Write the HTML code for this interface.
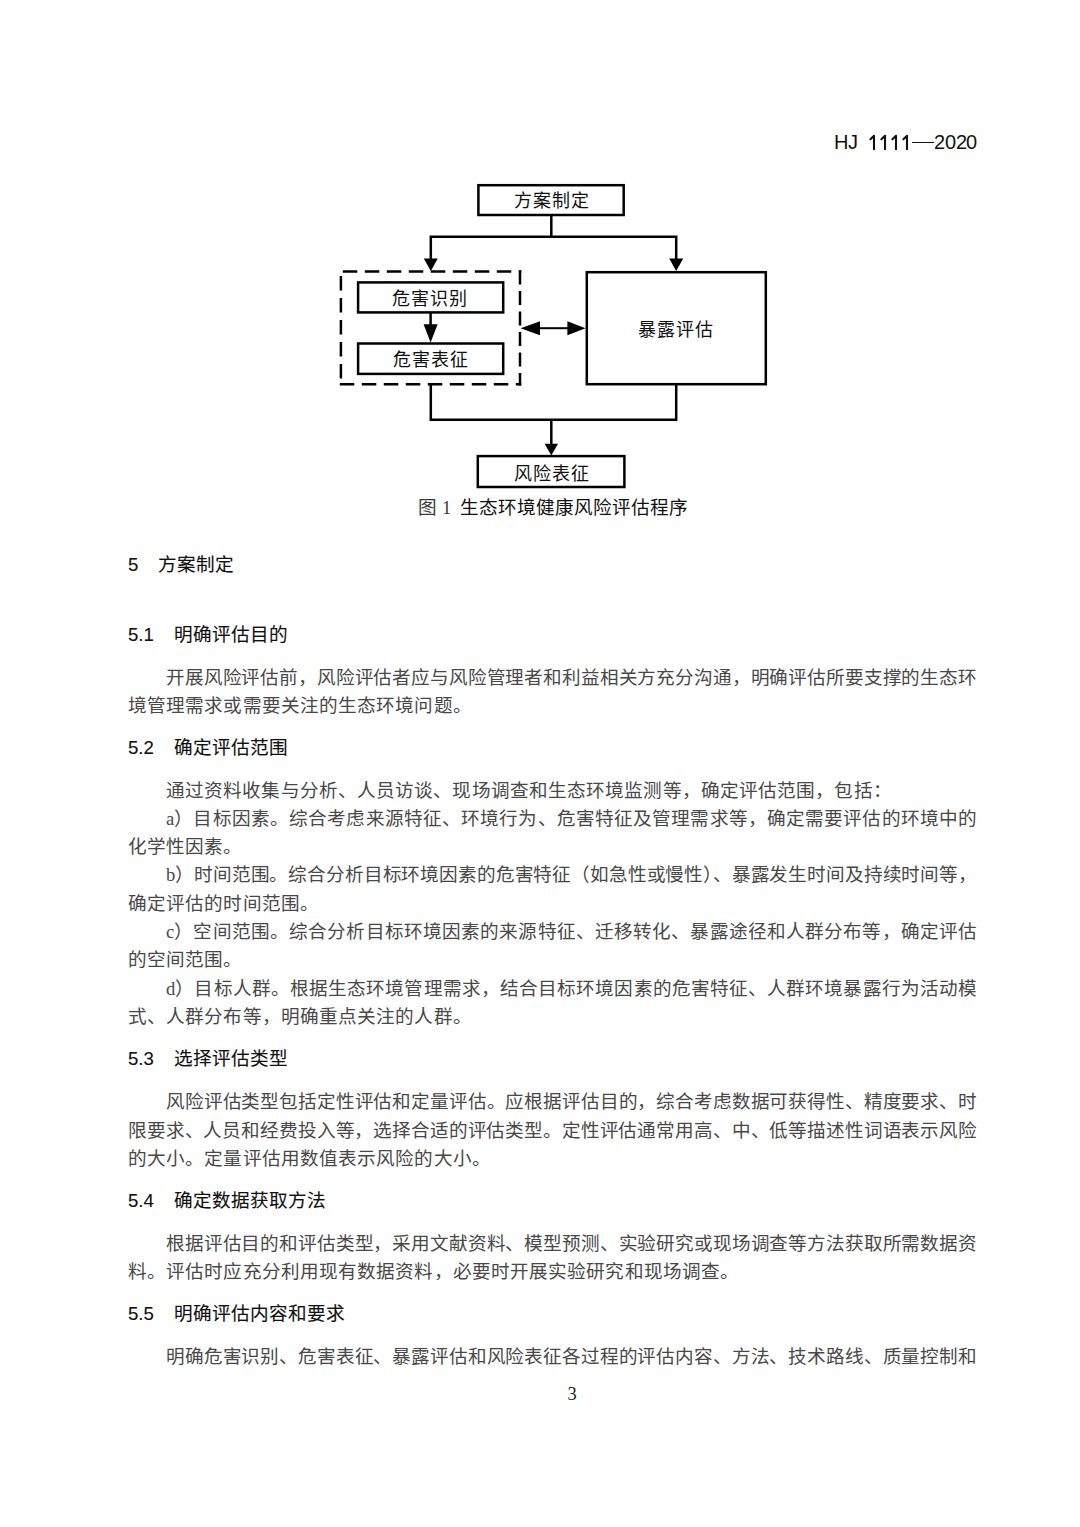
<!DOCTYPE html>
<html lang="zh-CN">
<head>
<meta charset="utf-8">
<style>
html,body{margin:0;padding:0;background:#fff;}
body{width:1080px;height:1527px;position:relative;overflow:hidden;}
.t{position:absolute;white-space:nowrap;font-family:"Liberation Serif",serif;}
.s{font-family:"Liberation Sans",sans-serif;}
.b{font-family:"Liberation Sans",sans-serif;font-size:18.6px;line-height:22px;height:22px;color:#484848;}
.l{font-family:"Liberation Serif",serif;}
.jj{text-align:justify;text-align-last:justify;}
.h{font-family:"Liberation Sans",sans-serif;font-size:18.6px;line-height:22px;height:22px;color:#111;-webkit-text-stroke:0.12px #111;}
.hd{position:absolute;top:130px;font-family:"Liberation Sans",sans-serif;font-size:20px;line-height:24px;color:#111;}
.fc{font-family:"Liberation Sans",sans-serif;font-size:18px;line-height:22px;color:#111;letter-spacing:1px;}
</style>
</head>
<body>
<div class="hd" style="left:834px">H</div><div class="hd" style="left:848px">J</div><svg style="position:absolute;left:0;top:0" width="1080" height="160"><g fill="none" stroke="#111" stroke-width="2.1" stroke-linejoin="round" stroke-linecap="round"><path d="M870.4 139.2L874.0 135.8V149.3"/><path d="M881.4 139.2L885.0 135.8V149.3"/><path d="M892.4 139.2L896.0 135.8V149.3"/><path d="M903.4 139.2L907.0 135.8V149.3"/></g></svg><div style="position:absolute;left:912px;top:141.6px;width:22px;height:1.6px;background:#111"></div><div class="hd" style="left:934px">2</div><div class="hd" style="left:945px">0</div><div class="hd" style="left:956px">2</div><div class="hd" style="left:966px">0</div>

<svg style="position:absolute;left:0;top:0" width="1080" height="540" viewBox="0 0 1080 540">
<g fill="none" stroke="#000" stroke-width="2.5">
<rect x="478.4" y="185.2" width="145.3" height="29.8"/>
<line x1="551.3" y1="215" x2="551.3" y2="236.7"/>
<polyline points="430.8,259 430.8,236.7 676.2,236.7 676.2,259"/>
<path d="M342.8 271.6H521.3" stroke-dasharray="14.5 7.5"/>
<path d="M340.9 276V386" stroke-dasharray="14.5 7.5"/>
<path d="M339.8 384.3H521.3" stroke-dasharray="14.5 7.5"/>
<path d="M520 270.4V385.5" stroke-dasharray="14 6.5"/>
<rect x="358.1" y="282.4" width="145.1" height="30"/>
<rect x="358.1" y="343.5" width="145.1" height="30.4"/>
<line x1="430.6" y1="313" x2="430.6" y2="325"/>
<rect x="586.8" y="272.2" width="179" height="112"/>
<line x1="538" y1="328.2" x2="569" y2="328.2" stroke-width="2"/>
<polyline points="430.8,384.3 430.8,419.8 676.2,419.8 676.2,384.2"/>
<line x1="551.3" y1="419.8" x2="551.3" y2="444"/>
<rect x="477.8" y="456.1" width="146.6" height="30.9"/>
</g>
<g fill="#000">
<polygon points="423.8,258.5 437.8,258.5 430.8,271"/>
<polygon points="669.2,258.5 683.2,258.5 676.2,271"/>
<polygon points="423.6,324.2 437.6,324.2 430.6,342.5"/>
<polygon points="520.6,328.2 540,321.2 540,335.2"/>
<polygon points="585.5,328.2 567.4,321.2 567.4,335.2"/>
<polygon points="544.6,443.7 558,443.7 551.3,455.5"/>
</g>
</svg>
<div class="t fc jj" style="left:514px;top:189.5px;width:75px;">方案制定</div>
<div class="t fc jj" style="left:392px;top:287.5px;width:75px;">危害识别</div>
<div class="t fc jj" style="left:393px;top:348.5px;width:75px;">危害表征</div>
<div class="t fc jj" style="left:638px;top:318.5px;width:75px;">暴露评估</div>
<div class="t fc jj" style="left:514px;top:462.5px;width:75px;">风险表征</div>
<div class="t s" style="left:418px;top:497px;font-size:18.6px;line-height:22px;color:#3a3a3a;">图</div>
<div class="t" style="left:442px;top:497px;font-size:18.6px;line-height:22px;color:#3a3a3a;">1</div>
<div class="t s jj" style="left:460px;top:497px;width:228px;font-size:18.6px;line-height:22px;color:#111;">生态环境健康风险评估程序</div>

<div class="t b jj" style="left:166px;top:666.5px;width:810.857px;letter-spacing:-0.143px">开展风险评估前，风险评估者应与风险管理者和利益相关方充分沟通，明确评估所要支撑的生态环</div>
<div class="t b jj" style="left:128px;top:694.5px;width:343.800px;letter-spacing:0.100px">境管理需求或需要关注的生态环境问题。</div>
<div class="t b jj" style="left:166px;top:779.5px;width:725.800px;letter-spacing:0.100px">通过资料收集与分析、人员访谈、现场调查和生态环境监测等，确定评估范围，包括：</div>
<div class="t b jj" style="left:166px;top:807.5px;width:811.113px;letter-spacing:0.113px"><span style="font-family:'Liberation Serif',serif">a</span>）目标因素。综合考虑来源特征、环境行为、危害特征及管理需求等，确定需要评估的环境中的</div>
<div class="t b jj" style="left:128px;top:835.5px;width:114.600px;letter-spacing:0.100px">化学性因素。</div>
<div class="t b jj" style="left:166px;top:863.5px;width:810.854px;letter-spacing:-0.146px"><span style="font-family:'Liberation Serif',serif">b</span>）时间范围。综合分析目标环境因素的危害特征（如急性或慢性）、暴露发生时间及持续时间等，</div>
<div class="t b jj" style="left:128px;top:892.5px;width:191.000px;letter-spacing:0.100px">确定评估的时间范围。</div>
<div class="t b jj" style="left:166px;top:920.5px;width:811.113px;letter-spacing:0.113px"><span style="font-family:'Liberation Serif',serif">c</span>）空间范围。综合分析目标环境因素的来源特征、迁移转化、暴露途径和人群分布等，确定评估</div>
<div class="t b jj" style="left:128px;top:948.5px;width:114.600px;letter-spacing:0.100px">的空间范围。</div>
<div class="t b jj" style="left:166px;top:977.5px;width:811.088px;letter-spacing:0.088px"><span style="font-family:'Liberation Serif',serif">d</span>）目标人群。根据生态环境管理需求，结合目标环境因素的危害特征、人群环境暴露行为活动模</div>
<div class="t b jj" style="left:128px;top:1005.5px;width:343.800px;letter-spacing:0.100px">式、人群分布等，明确重点关注的人群。</div>
<div class="t b jj" style="left:166px;top:1090.5px;width:810.857px;letter-spacing:-0.143px">风险评估类型包括定性评估和定量评估。应根据评估目的，综合考虑数据可获得性、精度要求、时</div>
<div class="t b jj" style="left:128px;top:1119.5px;width:848.864px;letter-spacing:-0.136px">限要求、人员和经费投入等，选择合适的评估类型。定性评估通常用高、中、低等描述性词语表示风险</div>
<div class="t b jj" style="left:128px;top:1147.5px;width:362.900px;letter-spacing:0.100px">的大小。定量评估用数值表示风险的大小。</div>
<div class="t b jj" style="left:166px;top:1232.5px;width:810.857px;letter-spacing:-0.143px">根据评估目的和评估类型，采用文献资料、模型预测、实验研究或现场调查等方法获取所需数据资</div>
<div class="t b jj" style="left:128px;top:1260.5px;width:611.200px;letter-spacing:0.100px">料。评估时应充分利用现有数据资料，必要时开展实验研究和现场调查。</div>
<div class="t b jj" style="left:166px;top:1345.5px;width:810.857px;letter-spacing:-0.143px">明确危害识别、危害表征、暴露评估和风险表征各过程的评估内容、方法、技术路线、质量控制和</div>
<div class="t h" style="left:128px;top:553.5px">5</div><div class="t h jj" style="left:158px;top:553.5px;width:76.000px">方案制定</div>
<div class="t h" style="left:128px;top:623.5px">5.1</div><div class="t h jj" style="left:174px;top:623.5px;width:114.000px">明确评估目的</div>
<div class="t h" style="left:128px;top:736.5px">5.2</div><div class="t h jj" style="left:174px;top:736.5px;width:114.000px">确定评估范围</div>
<div class="t h" style="left:128px;top:1047.5px">5.3</div><div class="t h jj" style="left:174px;top:1047.5px;width:114.000px">选择评估类型</div>
<div class="t h" style="left:128px;top:1189.5px">5.4</div><div class="t h jj" style="left:174px;top:1189.5px;width:152.000px">确定数据获取方法</div>
<div class="t h" style="left:128px;top:1302.5px">5.5</div><div class="t h jj" style="left:174px;top:1302.5px;width:171.000px">明确评估内容和要求</div>
<div class="t" style="left:567.5px;top:1383px;font-size:18.5px;line-height:22px;color:#222;">3</div>
</body>
</html>
